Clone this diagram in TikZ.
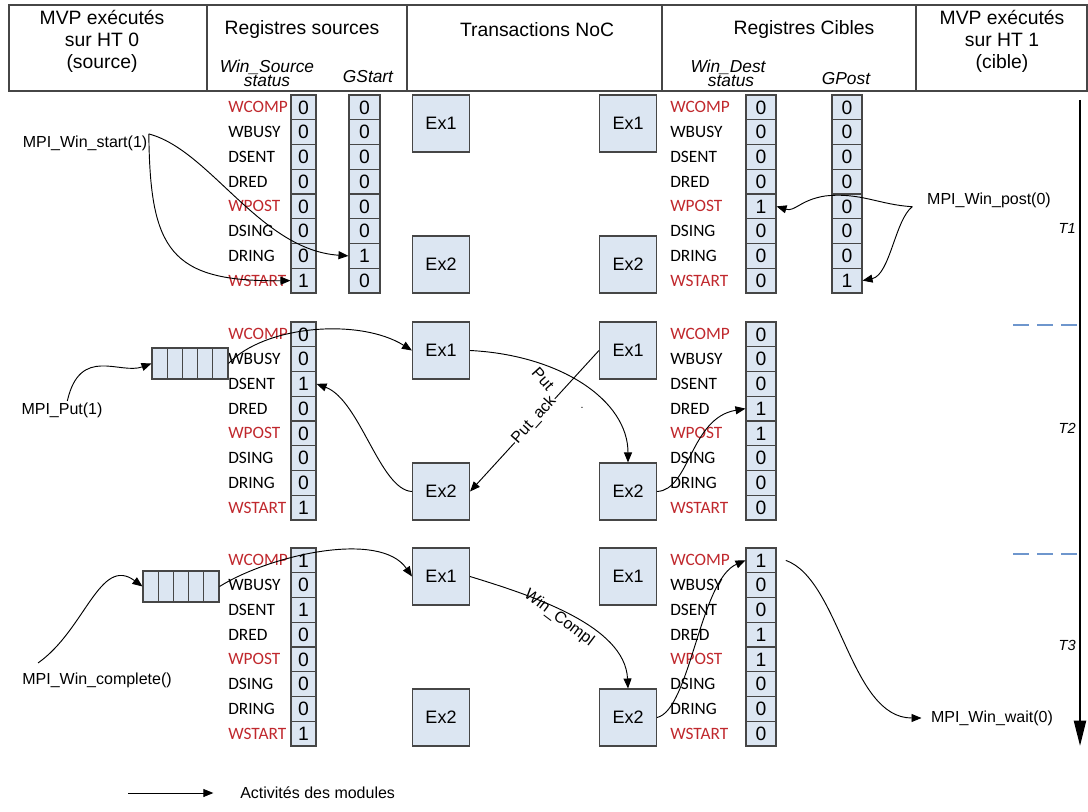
\documentclass[tikz,border=0pt]{standalone}
\usepackage{fontspec}
\setmainfont{Liberation Sans}
\newfontfamily\lblfont{Carlito}
\usetikzlibrary{arrows.meta}
\definecolor{regred}{RGB}{192,40,45}
\definecolor{cellfill}{RGB}{220,230,242}
\definecolor{edgegray}{RGB}{70,70,70}
\definecolor{dashblue}{RGB}{110,150,205}
\newcommand\regcol[5]{\foreach \v [count=\i] in {#5} {\node[cell, minimum width={#4*0.75pt}] (#1-\i) at (#2,{#3+(\i-0.5)*24.75}) {\v};}}
\newcommand\reglbl[3]{\foreach \t/\c [count=\i] in {WCOMP/regred,WBUSY/black,DSENT/black,DRED/black,WPOST/regred,DSING/black,DRING/black,WSTART/regred}{\node[lbl, text=\c] (#1-\i) at (#2,{#3+(\i-0.5)*24.75}) {\t};}}
\newcommand\qcells[3]{\foreach \i in {1,...,5}{\node[cell, minimum width={15.2*0.75pt}, minimum height={31*0.75pt}] (#1-\i) at ({#2+(\i-0.5)*15.2},#3) {};}}
\begin{document}
\begin{tikzpicture}[x=0.75pt,y=-0.75pt,
  cell/.style={draw=edgegray, fill=cellfill, line width=0.8pt, inner sep=0pt, minimum height={24.75*0.75pt}, font=\fontsize{14.5}{14.5}\selectfont},
  exbox/.style={draw=edgegray, fill=cellfill, line width=0.8pt, minimum size={57*0.75pt}, inner sep=0pt, font=\fontsize{13.5}{14}\selectfont},
  lbl/.style={anchor=west, inner sep=0pt, font=\lblfont\fontsize{13}{14}\selectfont},
  call/.style={inner sep=1pt, font=\fontsize{12}{13}\selectfont},
  conn/.style={line width=0.7pt, -{Triangle[length=7.5pt,width=6pt]}},
  hdr/.style={font=\fontsize{14.5}{16.5}\selectfont, align=center, inner sep=0pt},
  sub/.style={font=\itshape\fontsize{13}{13}\selectfont, inner sep=0pt},
  elbl/.style={font=\fontsize{12}{13}\selectfont, inner sep=0.5pt},
  tlbl/.style={font=\itshape\fontsize{11}{12}\selectfont, inner sep=0pt, anchor=east}]
\path[use as bounding box] (0,0) rectangle (1088,812);

% header table
\draw[edgegray, line width=0.8pt] (9,5) rectangle (1087,91);
\foreach \xx in {207,407,662,916} \draw[edgegray, line width=0.8pt] (\xx,5) -- (\xx,91);
\node[hdr] (h1) at (102,41) {MVP exécutés\\sur HT 0\\(source)};
\node[hdr] (h2) at (302,30) {Registres sources};
\node[sub] (h2a) at (267,67) {Win\_Source};
\node[sub] (h2b) at (267,81) {status};
\node[sub] (h2c) at (368,77) {GStart};
\node[hdr] (h3) at (537,30) {Transactions NoC};
\node[hdr] (h4) at (804,30) {Registres Cibles};
\node[sub] (h4a) at (728,67) {Win\_Dest};
\node[sub] (h4b) at (731,81) {status};
\node[sub] (h4c) at (846,79) {GPost};
\node[hdr] (h5) at (1002,41) {MVP exécutés\\sur HT 1\\(cible)};

% block 1
\reglbl{la}{228}{95}
\regcol{sa}{303.5}{95}{25}{0,0,0,0,0,0,0,1}
\regcol{ga}{364.5}{95}{31}{0,0,0,0,0,0,1,0}
\reglbl{ra}{670}{95}
\regcol{da}{761}{95}{30}{0,0,0,0,1,0,0,0}
\regcol{pa}{847}{95}{30}{0,0,0,0,0,0,0,1}
\node[exbox] (L1a) at (441,123.5) {Ex1};
\node[exbox] (L1b) at (441,264.5) {Ex2};
\node[exbox] (R1a) at (628,123.5) {Ex1};
\node[exbox] (R1b) at (628,264.5) {Ex2};

% block 2
\reglbl{lb}{228}{322}
\regcol{sb}{303.5}{322}{25}{0,0,1,0,0,0,0,1}
\reglbl{rb}{670}{322}
\regcol{db}{761}{322}{30}{0,0,0,1,1,0,0,0}
\node[exbox] (L2a) at (441,350.5) {Ex1};
\node[exbox] (L2b) at (441,491.5) {Ex2};
\node[exbox] (R2a) at (628,350.5) {Ex1};
\node[exbox] (R2b) at (628,491.5) {Ex2};
\qcells{qb}{152}{363.5}

% block 3
\reglbl{lc}{228}{548}
\regcol{sc}{303.5}{548}{25}{1,0,1,0,0,0,0,1}
\reglbl{rc}{670}{548}
\regcol{dc}{761}{548}{30}{1,0,0,1,1,0,0,0}
\node[exbox] (L3a) at (441,576.5) {Ex1};
\node[exbox] (L3b) at (441,717.5) {Ex2};
\node[exbox] (R3a) at (628,576.5) {Ex1};
\node[exbox] (R3b) at (628,717.5) {Ex2};
\qcells{qc}{143}{586.5}

% MPI calls
\node[call] (wstart) at (85,143) {MPI\_Win\_start(1)};
\node[call] (wpost) at (989,200) {MPI\_Win\_post(0)};
\node[call] (mput) at (62,410) {MPI\_Put(1)};
\node[call] (wcomp) at (97,680) {MPI\_Win\_complete()};
\node[call] (wwait) at (992,718) {MPI\_Win\_wait(0)};

% block 1 connectors
\draw[conn] (wstart.north east) .. controls (210,150) and (260,250) .. (ga-7.west);
\draw[conn] (wstart.north east) .. controls (150,250) and (170,282) .. (sa-8.west);
\draw[conn] ([xshift=-10pt,yshift=-5pt]wpost.west) .. controls (880,205) and (860,192) .. (825,196) .. controls (800,200) and (795,212) .. (da-5.east);
\draw[conn] ([xshift=-10pt,yshift=-5pt]wpost.west) .. controls (895,220) and (890,275) .. (pa-8.east);

% block 2 connectors
\draw[conn] ([xshift=4pt]mput.north) .. controls (80,345) and (120,375) .. (qb-1.west);
\draw[conn] (qb-5.east) .. controls (265,325) and (360,318) .. (L2a.west);
\draw[conn] (L2a.east) .. controls (560,355) and (628,400) .. (R2b.north);
\node[elbl, rotate=-48] (putl) at (543,379) {Put};
\draw[conn] (R2a.west) -- (L2b.east);
\node[elbl, rotate=48, fill=white] (ackl) at (534,420) {Put\_ack};
\node[inner sep=0pt, font=\fontsize{8}{8}\selectfont] (dotl) at (582,408) {.};
\draw[conn] (L2b.west) .. controls (380,490) and (360,400) .. (sb-3.east);
\draw[conn] (R2b.east) .. controls (690,490) and (690,418) .. (db-4.west);

% block 3 connectors
\draw[conn] ([xshift=13pt,yshift=6pt]wcomp.north west) .. controls (85,630) and (100,555) .. (qc-1.west);
\draw[conn] (qc-5.east) .. controls (270,555) and (380,530) .. (L3a.west);
\draw[conn] (L3a.east) .. controls (530,595) and (625,625) .. (R3b.north);
\node[elbl, rotate=-37] (wcl) at (559,618) {Win\_Compl};
\draw[conn] (R3b.east) .. controls (690,710) and (700,580) .. (dc-1.west);
\draw[conn] ([xshift=7pt]dc-1.east) .. controls (840,580) and (850,718) .. ([xshift=-6pt]wwait.west);

% time axis
\coordinate (ta) at (1080,100);
\coordinate (tb) at (1080,746);
\draw[line width=1.6pt, -{Triangle[length=19pt,width=9pt]}] (ta) -- (tb);
\node[tlbl] (t1) at (1076,228) {T1};
\node[tlbl] (t2) at (1076,428) {T2};
\node[tlbl] (t3) at (1076,645) {T3};
\coordinate (d2a) at (1013,325);
\coordinate (d2b) at (1079,325);
\coordinate (d3a) at (1013,554);
\coordinate (d3b) at (1079,554);
\draw[dashblue, line width=0.8pt, dash pattern=on 12pt off 6pt] (d2a) -- (d2b);
\draw[dashblue, line width=0.8pt, dash pattern=on 12pt off 6pt] (d3a) -- (d3b);

% legend
\coordinate (lgs) at (128,793);
\node[call, anchor=west, inner sep=0pt] (lgt) at (240,793) {Activités des modules};
\draw[conn] (lgs) -- ([xshift=-20pt]lgt.west);
\end{tikzpicture}
\end{document}
